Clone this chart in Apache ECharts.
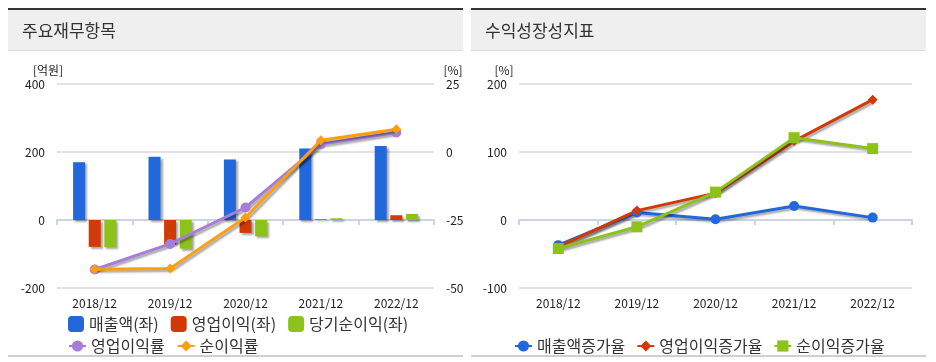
<!DOCTYPE html>
<html><head><meta charset="utf-8">
<script src="https://cdn.jsdelivr.net/npm/echarts@6/dist/echarts.min.js"></script>
<style>html,body{margin:0;padding:0;background:#fff;}#c{width:936px;height:362px;}</style>
</head><body><div id="c"></div>
<script>
const categories = ['2018/12','2019/12','2020/12','2021/12','2022/12'];
const sales = [170, 186, 178, 210, 218];
const opIncome = [-79, -72, -38, 2, 14];
const netIncome = [-80, -84, -48, 5, 18];
const opMargin = [-43.2, -33.8, -20.4, 2.9, 7.2];
const netMargin = [-43.1, -42.8, -24.1, 4.3, 8.4];
const salesGrowth = [-37, 11, 1, 20.7, 3.5];
const opGrowth = [-39.5, 13.8, 39.5, 116, 177];
const netGrowth = [-42, -10, 41, 121, 105];
const leftTicks = {min:-200, max:400, interval:200};
const rightTicks = {min:-50, max:25, interval:25};
const growthTicks = {min:-100, max:200, interval:100};

const FONT = '"Noto Sans CJK KR","Noto Sans",sans-serif';
const C = {blue:'#2168DC', red:'#D13A06', green:'#8CC21A', purple:'#A67ED9', orange:'#FF9F0F'};
const shadow = {shadowColor:'rgba(0,0,0,0.35)', shadowBlur:2, shadowOffsetX:2, shadowOffsetY:2};

const chart = echarts.init(document.getElementById('c'), null, {renderer:'canvas'});

function xAxisCfg(gi){
  return {type:'category', gridIndex:gi, data:categories, boundaryGap:true,
    axisLine:{lineStyle:{color:'#C9D5E3', width:2}},
    axisTick:{show:true, length:5, lineStyle:{color:'#C9D5E3', width:2}},
    axisLabel:{color:'#222', fontSize:12, margin:9, fontFamily:FONT}};
}
function yAxisCfg(gi, t, pos, showSplit){
  return {type:'value', gridIndex:gi, position:pos, min:t.min, max:t.max, interval:t.interval,
    axisLine:{show:false}, axisTick:{show:false},
    axisLabel:{color:'#222', fontSize:12, margin:12, fontFamily:FONT},
    splitLine:{show:showSplit, lineStyle:{color:'#E2E2E2', width:2}}};
}

const graphic = [];
[[8,463,'주요재무항목'],[471,926,'수익성장성지표']].forEach(([x0,x1,t])=>{
  graphic.push({type:'rect', shape:{x:x0,y:10,width:x1-x0,height:40}, style:{fill:'#EFEFEF'}, silent:true});
  graphic.push({type:'rect', shape:{x:x0,y:8,width:x1-x0,height:2}, style:{fill:'#333'}, silent:true});
  graphic.push({type:'rect', shape:{x:x0,y:50,width:x1-x0,height:1}, style:{fill:'#DADADA'}, silent:true});
  graphic.push({type:'rect', shape:{x:x0,y:355,width:x1-x0,height:2}, style:{fill:'#CFCFCF'}, silent:true});
  graphic.push({type:'text', x:x0+14, y:31, style:{text:t, font:'17px '+FONT, fill:'#333', textVerticalAlign:'middle'}, silent:true});
});
graphic.push({type:'text', x:48, y:70, style:{text:'[억원]', font:'12px '+FONT, fill:'#222', textAlign:'center', textVerticalAlign:'middle'}});
graphic.push({type:'text', x:453, y:70, style:{text:'[%]', font:'12px '+FONT, fill:'#222', textAlign:'center', textVerticalAlign:'middle'}});
graphic.push({type:'text', x:504, y:70, style:{text:'[%]', font:'12px '+FONT, fill:'#222', textAlign:'center', textVerticalAlign:'middle'}});

const legendText = {color:'#333', fontSize:16, fontFamily:FONT};
chart.setOption({
  animation:false,
  textStyle:{fontFamily:FONT},
  graphic: graphic,
  grid:[
    {left:57, top:84, width:377, height:204},
    {left:519, top:84, width:393, height:204}
  ],
  xAxis:[xAxisCfg(0), xAxisCfg(1)],
  yAxis:[yAxisCfg(0,leftTicks,'left',true), yAxisCfg(0,rightTicks,'right',false), yAxisCfg(1,growthTicks,'left',true)],
  legend:[
    {left:63, top:311, itemWidth:16, itemHeight:16, itemGap:12, textStyle:legendText,
      data:[{name:'매출액(좌)',icon:'roundRect'},{name:'영업이익(좌)',icon:'roundRect'},{name:'당기순이익(좌)',icon:'roundRect'}]},
    {left:63, top:333, itemWidth:17, itemHeight:14, itemGap:12, textStyle:legendText,
      data:['영업이익률','순이익률']},
    {left:509, top:333, itemWidth:17, itemHeight:14, itemGap:11, textStyle:legendText,
      data:['매출액증가율','영업이익증가율','순이익증가율']}
  ],
  series:[
    {name:'매출액(좌)', type:'bar', xAxisIndex:0, yAxisIndex:0, data:sales, barWidth:12, barGap:'30%', itemStyle:Object.assign({color:C.blue}, shadow)},
    {name:'영업이익(좌)', type:'bar', xAxisIndex:0, yAxisIndex:0, data:opIncome, barWidth:12, barGap:'30%', itemStyle:Object.assign({color:C.red}, shadow)},
    {name:'당기순이익(좌)', type:'bar', xAxisIndex:0, yAxisIndex:0, data:netIncome, barWidth:12, barGap:'30%', itemStyle:Object.assign({color:C.green}, shadow)},
    {name:'영업이익률', type:'line', xAxisIndex:0, yAxisIndex:1, data:opMargin, symbol:'circle', symbolSize:10, z:5,
      lineStyle:Object.assign({color:C.purple, width:3}, shadow), itemStyle:{color:C.purple}},
    {name:'순이익률', type:'line', xAxisIndex:0, yAxisIndex:1, data:netMargin, symbol:'diamond', symbolSize:10, z:6,
      lineStyle:Object.assign({color:C.orange, width:3}, shadow), itemStyle:{color:C.orange}},
    {name:'매출액증가율', type:'line', xAxisIndex:1, yAxisIndex:2, data:salesGrowth, symbol:'circle', symbolSize:10,
      lineStyle:Object.assign({color:C.blue, width:3}, shadow), itemStyle:{color:C.blue}},
    {name:'영업이익증가율', type:'line', xAxisIndex:1, yAxisIndex:2, data:opGrowth, symbol:'diamond', symbolSize:10,
      lineStyle:Object.assign({color:C.red, width:3}, shadow), itemStyle:{color:C.red}},
    {name:'순이익증가율', type:'line', xAxisIndex:1, yAxisIndex:2, data:netGrowth, symbol:'rect', symbolSize:11,
      lineStyle:Object.assign({color:C.green, width:3}, shadow), itemStyle:{color:C.green}}
  ]
});
</script></body></html>
